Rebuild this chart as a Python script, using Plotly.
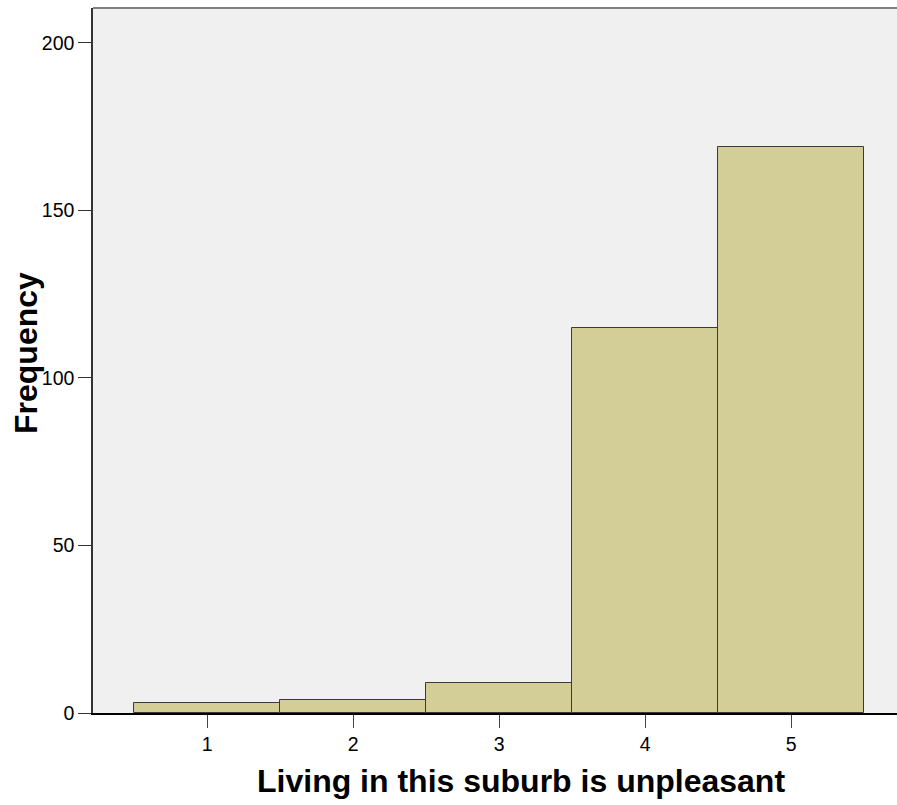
import plotly.graph_objects as go

categories = [1, 2, 3, 4, 5]
frequencies = [3, 4, 9, 115, 169]
y_ticks = [0, 50, 100, 150, 200]
x_title = "Living in this suburb is unpleasant"
y_title = "Frequency"

fig = go.Figure()
fig.add_trace(go.Bar(
    x=categories, y=frequencies, width=1,
    marker=dict(color="#D3CE97", line=dict(color="#3a3a3a", width=1)),
    hoverinfo="x+y",
))

font_family = "Liberation Sans, Arial, sans-serif"
fig.update_layout(
    width=897, height=805,
    margin=dict(l=93, r=0, t=8, b=92),
    paper_bgcolor="white", plot_bgcolor="#F0F0F0",
    showlegend=False,
    bargap=0,
    font=dict(family=font_family, color="black", size=19.5),
    xaxis=dict(
        range=[0.217, 5.726], tickvals=categories, ticktext=[str(c) for c in categories],
        ticks="outside", ticklen=13, tickcolor="#444", tickwidth=1,
        showgrid=False, zeroline=False, showline=True, linecolor="black", linewidth=1.5,
        tickfont=dict(size=19.5),
    ),
    yaxis=dict(
        range=[0, 210.4], tickvals=y_ticks,
        ticks="outside", ticklen=13, tickcolor="#333", tickwidth=1,
        showgrid=False, zeroline=False, showline=True, linecolor="#333", linewidth=1.5,
        tickfont=dict(size=19.5),
    ),
    shapes=[dict(type="line", xref="paper", yref="paper", x0=0, x1=1, y0=1, y1=1,
                 line=dict(color="#808080", width=2))],
    annotations=[
        dict(text="<b>%s</b>" % x_title, xref="paper", yref="paper",
             x=(521 - 93) / 804, y=-(781 - 713) / 705, xanchor="center", yanchor="middle",
             showarrow=False, font=dict(size=32, family=font_family)),
        dict(text="<b>%s</b>" % y_title, xref="paper", yref="paper",
             x=-(93 - 26) / 804, y=(713 - 353) / 705, xanchor="center", yanchor="middle",
             textangle=-90, showarrow=False, font=dict(size=32, family=font_family)),
    ],
)

fig.write_html("out.html", config={"displayModeBar": False},
               post_script="document.body.style.margin='0';document.body.style.overflow='hidden';")
